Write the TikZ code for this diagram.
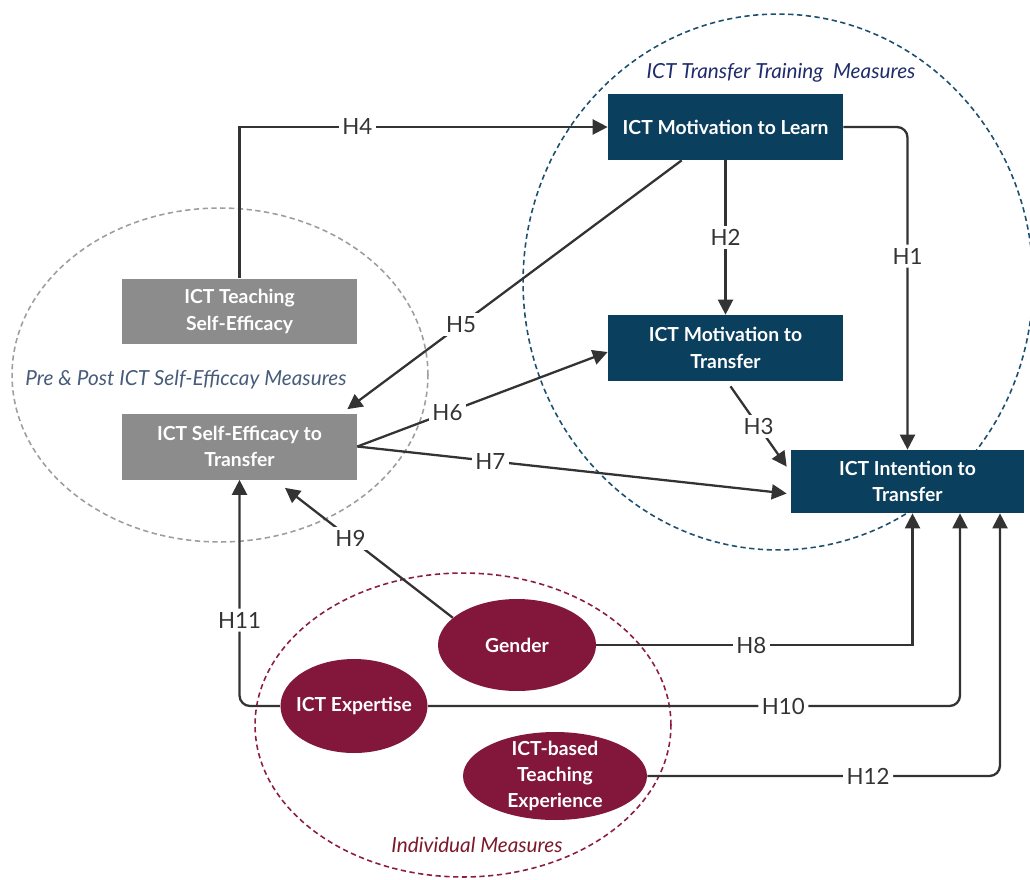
\documentclass[tikz,border=0pt]{standalone}
\usepackage{fontspec}
\setmainfont{Lato}
\usetikzlibrary{arrows.meta,calc,shapes.geometric}

\definecolor{navy}{HTML}{0B3F5E}
\definecolor{boxgrey}{HTML}{8C8C8C}
\definecolor{maroon}{HTML}{82173B}
\definecolor{circnavy}{HTML}{1D4F6E}
\definecolor{dashgrey}{HTML}{9E9E9E}
\definecolor{dashmaroon}{HTML}{8B1E3F}
\definecolor{ttnavy}{HTML}{1E2C6B}
\definecolor{preslate}{HTML}{465C7A}
\definecolor{indred}{HTML}{7A1A2B}
\definecolor{linegrey}{HTML}{333333}

\newcommand\boxfont{\fontsize{11}{15}\selectfont\bfseries}
\newcommand\hfont{\fontsize{12.7}{15}\selectfont}
\newcommand\grpfont{\fontsize{11.8}{14}\selectfont\itshape}

\begin{document}
\begin{tikzpicture}[x=0.02cm, y=-0.02cm,
    navybox/.style={rectangle, fill=navy, text=white, font=\boxfont, align=center,
        minimum width=4.7cm, minimum height=1.32cm, inner sep=0pt},
    greybox/.style={navybox, fill=boxgrey},
    indiv/.style={ellipse, fill=maroon, inner sep=0pt},
    itext/.style={text=white, font=\boxfont, align=center},
    hlink/.style={draw=linegrey, line width=1.3pt, -{Triangle[length=8.5pt, width=8.5pt]}},
    hlab/.style={fill=white, inner sep=2pt, text=linegrey, font=\hfont},
    group/.style={line width=0.9pt, dash pattern=on 3pt off 2pt}]

    \useasboundingbox (0,0) rectangle (1030,879);

    % --- MEASURE GROUPS ---
    \draw[group, draw=circnavy] (778,282) ellipse [x radius=5.1cm, y radius=5.36cm];
    \draw[group, draw=dashgrey] (220,375) ellipse [x radius=4.16cm, y radius=3.34cm];
    \draw[group, draw=dashmaroon] (463,725) ellipse [x radius=4.16cm, y radius=3.04cm];

    \node[font=\grpfont, text=ttnavy] (ttlab) at (781,73) {ICT Transfer Training\ \ Measures};
    \node[font=\grpfont, text=preslate] (prelab) at (186,380) {Pre \& Post ICT Self-Efficcay Measures};
    \node[font=\grpfont, text=indred] (indlab) at (477,845) {Individual Measures};

    % --- TRAINING MEASURES ---
    \node[navybox] (learn) at (725.5,127) {ICT Motivation to Learn};
    \node[navybox] (motiv) at (725.5,348) {ICT Motivation to\\Transfer};
    \node[navybox, minimum width=4.66cm, minimum height=1.26cm] (intent) at (907.5,481.5) {ICT Intention to\\Transfer};

    % --- SELF-EFFICACY MEASURES ---
    \node[greybox] (teach) at (239.5,311.5) {ICT Teaching\\Self-Efficacy};
    \node[greybox] (seff) at (239.5,446.5) {ICT Self-Efficacy to\\Transfer};

    % --- INDIVIDUAL MEASURES ---
    \node[indiv, minimum width=3.16cm, minimum height=1.84cm] (gender) at (517,645) {};
    \node[itext] at (gender) {Gender};
    \node[indiv, minimum width=2.94cm, minimum height=1.88cm] (expert) at (354,706) {};
    \node[itext] at (expert) {ICT Expertise};
    \node[indiv, minimum width=3.68cm, minimum height=1.76cm] (exper) at (555,776) {};
    \node[itext] at (exper) {ICT-based\\Teaching\\Experience};

    % --- HYPOTHESES ---
    \draw[hlink] (teach.north) |- node[hlab, pos=0.66] {H4} (learn.west);
    \draw[hlink, rounded corners=6pt] (learn.east) -| node[hlab, pos=0.7] {H1} (intent.north);
    \draw[hlink] (learn) -- node[hlab] {H2} (motiv);
    \draw[hlink] ($(motiv.south)+(5,5)$) -- node[hlab] {H3} ($(intent.north west)+(-4,17)$);
    \draw[hlink] ($(learn.south west)+(74,0)$) -- node[hlab, pos=0.66] {H5} ($(seff.north east)+(-10,-4)$);
    \draw[hlink] (seff.east) -- node[hlab, pos=0.36] {H6} ($(motiv.west)+(0,4)$);
    \draw[hlink] (seff.east) -- node[hlab, pos=0.31] {H7} ($(intent.west)+(-4,12)$);
    \draw[hlink] (gender.east) -| node[hlab, pos=0.245] {H8} ($(intent.south)+(5,0)$);
    \draw[hlink] (gender.157) -- node[hlab, pos=0.61] {H9} ($(seff.south)+(45.5,8)$);
    \draw[hlink, rounded corners=6pt] (expert.east) -| node[hlab, pos=0.334] {H10} ($(intent.south)+(52.5,0)$);
    \draw[hlink, rounded corners=6pt] (expert.west) -| node[hlab, pos=0.69] {H11} (seff.south);
    \draw[hlink, rounded corners=6pt] (exper.east) -| node[hlab, pos=0.313] {H12} ($(intent.south)+(92.5,0)$);

\end{tikzpicture}
\end{document}
